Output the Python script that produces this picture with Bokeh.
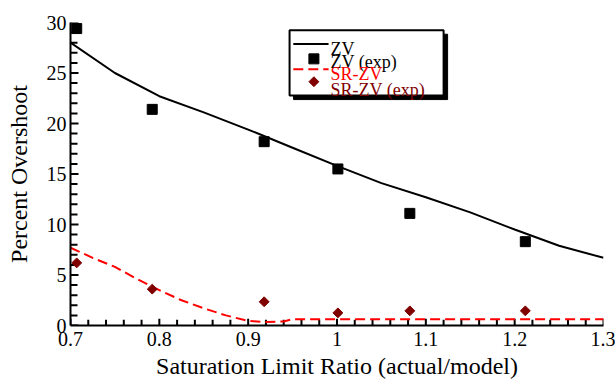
from bokeh.plotting import figure
from bokeh.models import Range1d, ColumnDataSource
from bokeh.core.properties import value
from bokeh.embed import file_html
from bokeh.resources import INLINE

FONT = "Liberation Serif"

# Model curves
zv_x = [0.70, 0.75, 0.80, 0.85, 0.90, 0.95, 1.00, 1.05, 1.10, 1.15, 1.20, 1.25, 1.30]
zv_y = [28.0, 25.0, 22.7, 21.1, 19.4, 17.6, 15.8, 14.1, 12.7, 11.2, 9.5, 7.9, 6.7]

srzv_x = [0.70, 0.725, 0.75, 0.775, 0.80, 0.825, 0.85, 0.875, 0.90, 0.92, 0.94, 0.95, 1.00, 1.10, 1.20, 1.30]
srzv_y = [7.7, 6.7, 5.8, 4.6, 3.5, 2.5, 1.7, 1.0, 0.45, 0.35, 0.4, 0.62, 0.62, 0.62, 0.62, 0.62]

# Experimental results
exp_x = [0.707, 0.792, 0.918, 1.001, 1.082, 1.212]
zv_exp = [29.4, 21.4, 18.2, 15.5, 11.1, 8.3]
srzv_exp = [6.2, 3.6, 2.35, 1.25, 1.45, 1.45]

legend_labels = ["ZV", "ZV (exp)", "SR-ZV", "SR-ZV (exp)"]
legend_colors = ["black", "black", "red", "#800000"]

# Tick positions
x_major = [0.7, 0.8, 0.9, 1.0, 1.1, 1.2, 1.3]
y_major = [0, 5, 10, 15, 20, 25, 30]

p = figure(width=615, height=381, output_backend="svg", toolbar_location=None,
           x_range=Range1d(0.7, 1.3), y_range=Range1d(0, 30),
           min_border_left=70, min_border_right=12, min_border_top=22, min_border_bottom=48)
p.outline_line_color = None
p.xgrid.grid_line_color = None
p.ygrid.grid_line_color = None

p.xaxis.ticker = x_major
p.yaxis.ticker = y_major

for ax in (p.xaxis[0], p.yaxis[0]):
    ax.axis_line_width = 2
    ax.axis_line_color = "black"
    ax.major_tick_in = 0
    ax.major_tick_out = 0
    ax.minor_tick_in = 0
    ax.minor_tick_out = 0
    ax.major_label_text_font = FONT
    ax.major_label_text_font_size = "20px"
    ax.major_label_text_color = "black"
    ax.axis_label_text_font = FONT
    ax.axis_label_text_font_size = "24px"
    ax.axis_label_text_font_style = "normal"
    ax.axis_label_text_color = "black"

p.xaxis.major_label_standoff = 6
p.xaxis.axis_label_standoff = 4
p.yaxis.major_label_standoff = 4
p.yaxis.axis_label_standoff = 12

p.xaxis.axis_label = "Saturation Limit Ratio (actual/model)"
p.yaxis.axis_label = "Percent Overshoot"
p.xaxis.major_label_overrides = {1: "1"}

# Inward tick marks (major and minor), drawn inside the frame
ypx = 30 / 311.0   # data units per pixel, y
xpx = 0.6 / 533.0  # data units per pixel, x
xt_minor = [round(0.7 + 0.02 * i, 4) for i in range(31) if i % 5 != 0]
yt_minor = [float(v) for v in range(31) if v % 5 != 0]

x0s, y0s, x1s, y1s = [], [], [], []
for v in x_major:
    x0s.append(v); y0s.append(0.0); x1s.append(v); y1s.append(7 * ypx)
for v in xt_minor:
    x0s.append(v); y0s.append(0.0); x1s.append(v); y1s.append(6 * ypx)
for v in y_major:
    x0s.append(0.7); y0s.append(float(v)); x1s.append(0.7 + 8 * xpx); y1s.append(float(v))
for v in yt_minor:
    x0s.append(0.7); y0s.append(v); x1s.append(0.7 + 7 * xpx); y1s.append(v)
ticks = ColumnDataSource(dict(x0=x0s, y0=y0s, x1=x1s, y1=y1s))
p.segment(x0="x0", y0="y0", x1="x1", y1="y1", source=ticks, line_color="black", line_width=2)

# Curves and experiment markers
p.line(zv_x, zv_y, line_color="black", line_width=2)
p.line(srzv_x, srzv_y, line_color="red", line_width=2, line_dash="10 5")
p.scatter(exp_x, zv_exp, marker="square", size=10, fill_color="black", line_color="black")
p.scatter(exp_x, srzv_exp, marker="square", angle=0.785398, size=7,
          fill_color="#800000", line_color="#800000")

# Legend box with drop shadow
lx0, lx1, ly0, ly1 = 0.9466, 1.1200, 22.76, 29.23
dx, dy = 0.0045, 0.39
p.quad(left=[lx0 + dx], right=[lx1 + dx], bottom=[ly0 - dy], top=[ly1 - dy],
       fill_color="black", line_color="black")
p.quad(left=[lx0], right=[lx1], bottom=[ly0], top=[ly1],
       fill_color="white", line_color="black", line_width=2)

sx0, sx1, mx, tx = 0.9508, 0.9905, 0.974, 0.9928
p.line([sx0, sx1], [27.88, 27.88], line_color="black", line_width=2)
p.scatter([mx], [26.4], marker="square", size=10, fill_color="black", line_color="black")
p.line([sx0, sx1], [25.37, 25.37], line_color="red", line_width=2, line_dash="10 5")
p.scatter([mx], [24.14], marker="square", angle=0.785398, size=7,
          fill_color="#800000", line_color="#800000")

src = ColumnDataSource(dict(x=[tx] * 4, y=[27.36, 26.07, 24.95, 23.28],
                            t=legend_labels, c=legend_colors))
p.text(x="x", y="y", text="t", text_color="c", source=src,
       text_font=value(FONT), text_font_size="18px", text_baseline="alphabetic")

open("out.html", "w").write(file_html(p, INLINE))
